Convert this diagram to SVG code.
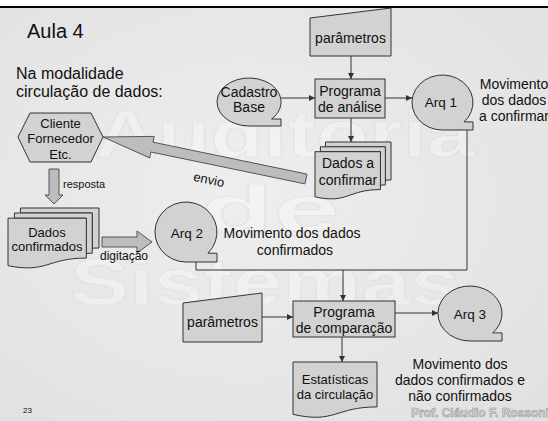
<svg xmlns="http://www.w3.org/2000/svg" width="548" height="421" viewBox="0 0 548 421">
  <defs>
    <radialGradient id="bg" cx="0.45" cy="0.45" r="0.75">
      <stop offset="0" stop-color="#eeeeee"/>
      <stop offset="1" stop-color="#e1e1e1"/>
    </radialGradient>
    <marker id="ah" markerUnits="userSpaceOnUse" markerWidth="7" markerHeight="6" refX="6" refY="3" orient="auto">
      <path d="M0,0 L6,3 L0,6 Z" fill="#333"/>
    </marker>
    <style>
      .shape { fill: #d2d2d2; stroke: #333; stroke-width: 1; }
      .blk { fill: #bdbdbd; stroke: #555; stroke-width: 1; }
      .con { fill: none; stroke: #333; stroke-width: 1; }
      .t { font-family: "Liberation Sans", Arial, sans-serif; fill: #111; }
      .c { text-anchor: middle; }
      .wm { font-family: "Liberation Sans", Arial, sans-serif; font-weight: bold; font-size: 66px; fill: #ffffff; fill-opacity: 0.3; stroke: #d4d4d4; stroke-opacity: 0.35; stroke-width: 1.2; }
    </style>
  </defs>

  <!-- background -->
  <rect x="0" y="0" width="548" height="421" fill="#ffffff"/>
  <rect x="0" y="7" width="548" height="414" fill="url(#bg)"/>
  <line x1="0" y1="7" x2="548" y2="7" stroke="#000" stroke-width="2"/>

  <!-- watermark -->
  <g id="watermark">
    <text class="wm" x="95" y="157" textLength="380" lengthAdjust="spacingAndGlyphs">Auditoria</text>
    <text class="wm" x="200" y="232" textLength="140" lengthAdjust="spacingAndGlyphs">de</text>
    <text class="wm" x="70" y="305" textLength="390" lengthAdjust="spacingAndGlyphs">Sistemas</text>
  </g>

  <!-- titles -->
  <text class="t" x="27" y="38" font-size="20">Aula 4</text>
  <text class="t" x="16" y="79" font-size="16">Na modalidade</text>
  <text class="t" x="16" y="97" font-size="16">circulação de dados:</text>

  <!-- connectors -->
  <g id="connectors">
    <line class="con" x1="351" y1="56" x2="351" y2="79" marker-end="url(#ah)"/>
    <line class="con" x1="281" y1="98" x2="315" y2="98" marker-end="url(#ah)"/>
    <line class="con" x1="385" y1="98" x2="412" y2="98" marker-end="url(#ah)"/>
    <line class="con" x1="351" y1="118" x2="351" y2="142" marker-end="url(#ah)"/>
    <path class="con" d="M467,130 V270 H196 V262"/>
    <line class="con" x1="343" y1="270" x2="343" y2="301" marker-end="url(#ah)"/>
    <line class="con" x1="262" y1="317" x2="293" y2="317" marker-end="url(#ah)"/>
    <line class="con" x1="395" y1="313" x2="438" y2="313" marker-end="url(#ah)"/>
    <line class="con" x1="342" y1="337" x2="342" y2="362" marker-end="url(#ah)"/>
    <!-- block arrows -->
    <polygon class="blk" points="49,169 59,169 59,195 63,195 54,204 45,195 49,195"/>
    <polygon class="blk" points="102,237 137,237 137,231 152,242 137,253 137,247 102,247"/>
    <polygon class="blk" points="103,137 154.2,136.4 153,142.2 307,174.1 305,183.9 151,152 149.7,157.9"/>
  </g>
  <text class="t" x="63" y="188" font-size="11">resposta</text>
  <text class="t" x="100" y="260" font-size="12">digitação</text>
  <text class="t c" font-size="13" transform="translate(208,184) rotate(11.7)">envio</text>

  <!-- nodes -->
  <g id="param1">
    <polygon class="shape" points="310,18 391,8 391,56 310,56"/>
    <text class="t c" x="350.5" y="43" font-size="14">parâmetros</text>
  </g>

  <g id="cadastro">
    <path class="shape" d="M249,126 A32,24 0 1 1 271.6,119 L281,119 L281,126 Z"/>
    <text class="t c" x="249" y="97" font-size="14">Cadastro</text>
    <text class="t c" x="249" y="112" font-size="14">Base</text>
  </g>

  <g id="prog-analise">
    <rect class="shape" x="315" y="79" width="70" height="39"/>
    <text class="t c" x="350" y="96" font-size="14">Programa</text>
    <text class="t c" x="350" y="112" font-size="14">de análise</text>
  </g>

  <g id="arq1">
    <path class="shape" d="M442.5,130 A30.5,27.5 0 1 1 464.1,121.9 L473,121.9 L473,130 Z"/>
    <text class="t c" x="441" y="107" font-size="13.5">Arq 1</text>
  </g>
  <g id="mov1">
    <text class="t c" x="514" y="89" font-size="14">Movimento</text>
    <text class="t c" x="514" y="105" font-size="14">dos dados</text>
    <text class="t c" x="514" y="121" font-size="14">a confirmar</text>
  </g>

  <g id="dados-confirmar">
    <path class="shape" d="M325.46,146.79 V142 H391 V179.98 L385.37,180.18 V146.79 Z"/>
    <path class="shape" d="M320.39,151.7 V146.79 H385.37 V184.89 L380.43,185.15 V151.7 Z"/>
    <path class="shape" d="M315,196.84 C347.72,204.12 347.72,189.56 380.43,189.56 V151.7 H315 Z"/>
    <text class="t c" x="348" y="168" font-size="14">Dados a</text>
    <text class="t c" x="348" y="185" font-size="14">confirmar</text>
  </g>

  <g id="cliente">
    <polygon class="shape" points="18,137 30,113 91,113 103,137 91,162 30,162"/>
    <text class="t c" x="60.5" y="128" font-size="13">Cliente</text>
    <text class="t c" x="60.5" y="143" font-size="13">Fornecedor</text>
    <text class="t c" x="60.5" y="159" font-size="13">Etc.</text>
  </g>

  <g id="dados-confirmados">
    <path class="shape" d="M20.52,213.04 V208 H99 V247.98 L92.26,248.19 V213.04 Z"/>
    <path class="shape" d="M14.45,218.21 V213.04 H92.26 V253.14 L86.34,253.42 V218.21 Z"/>
    <path class="shape" d="M8,265.73 C47.17,273.39 47.17,258.06 86.34,258.06 V218.21 H8 Z"/>
    <text class="t c" x="47" y="237" font-size="13">Dados</text>
    <text class="t c" x="47" y="251" font-size="13">confirmados</text>
  </g>

  <g id="arq2">
    <path class="shape" d="M186,262 A31,30 0 1 1 207.9,253.2 L217,253.2 L217,262 Z"/>
    <text class="t c" x="187" y="238" font-size="13.5">Arq 2</text>
  </g>
  <g id="mov2">
    <text class="t c" x="292" y="238" font-size="14">Movimento dos dados</text>
    <text class="t c" x="295" y="255" font-size="14">confirmados</text>
  </g>

  <g id="param2">
    <polygon class="shape" points="183,303 262,293 262,342 183,342"/>
    <text class="t c" x="222.5" y="327" font-size="14">parâmetros</text>
  </g>

  <g id="prog-comparacao">
    <rect class="shape" x="293" y="301" width="102" height="36"/>
    <text class="t c" x="344" y="317" font-size="14">Programa</text>
    <text class="t c" x="344" y="333" font-size="14">de comparação</text>
  </g>

  <g id="arq3">
    <path class="shape" d="M470,341 A32,27.5 0 1 1 492.6,332.9 L502,332.9 L502,341 Z"/>
    <text class="t c" x="470" y="319" font-size="13.5">Arq 3</text>
  </g>
  <g id="mov3">
    <text class="t c" x="460" y="369" font-size="14">Movimento dos</text>
    <text class="t c" x="460" y="385" font-size="14">dados confirmados e</text>
    <text class="t c" x="460" y="401" font-size="14">não confirmados</text>
  </g>

  <g id="estatisticas">
    <path class="shape" d="M293,362 H377 V406.91 C335,406.91 335,424.02 293,414.3 Z"/>
    <text class="t c" x="335" y="384" font-size="13">Estatísticas</text>
    <text class="t c" x="335" y="399" font-size="13">da circulação</text>
  </g>

  <text class="t" x="23" y="413" font-size="8">23</text>
  <text x="411" y="417" font-family="Liberation Sans, Arial, sans-serif" font-weight="bold" font-size="12" fill="#dadada" stroke="#999" stroke-width="0.6">Prof. Cláudio F. Rossoni</text>
</svg>
